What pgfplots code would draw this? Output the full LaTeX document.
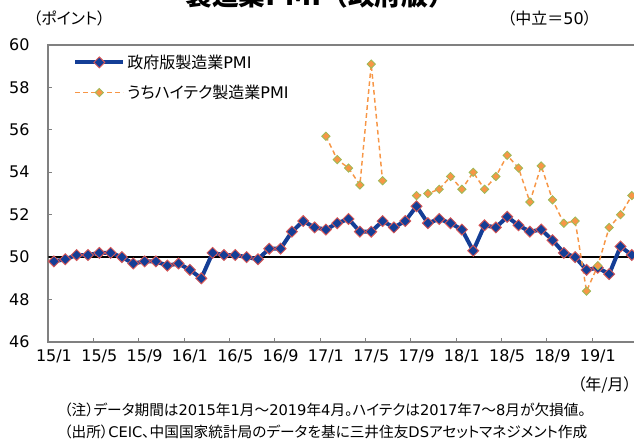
\documentclass[border=0pt]{standalone}
\usepackage{pgfplots}
\pgfplotsset{compat=1.18}
\usepackage{fontspec}
\setmainfont{DejaVu Sans}
\newfontfamily\jp[RawFeature=+palt]{Noto Sans CJK JP}
\newfontfamily\jpf{Noto Sans CJK JP}
\definecolor{pmiblue}{RGB}{20,62,150}
\definecolor{pmired}{RGB}{214,86,86}
\definecolor{pmiorange}{RGB}{247,150,70}
\definecolor{pmigreen}{RGB}{155,187,89}
\definecolor{axgray}{RGB}{128,128,128}
\pgfplotstableread{
x y
0 49.8
1 49.9
2 50.1
3 50.1
4 50.2
5 50.2
6 50.0
7 49.7
8 49.8
9 49.8
10 49.6
11 49.7
12 49.4
13 49.0
14 50.2
15 50.1
16 50.1
17 50.0
18 49.9
19 50.4
20 50.4
21 51.2
22 51.7
23 51.4
24 51.3
25 51.6
26 51.8
27 51.2
28 51.2
29 51.7
30 51.4
31 51.7
32 52.4
33 51.6
34 51.8
35 51.6
36 51.3
37 50.3
38 51.5
39 51.4
40 51.9
41 51.5
42 51.2
43 51.3
44 50.8
45 50.2
46 50.0
47 49.4
48 49.5
49 49.2
50 50.5
51 50.1
}\pmi
\pgfplotstableread{
x y
24 55.7
25 54.6
26 54.2
27 53.4
28 59.1
29 53.6
30 nan
31 nan
32 52.9
33 53.0
34 53.2
35 53.8
36 53.2
37 54.0
38 53.2
39 53.8
40 54.8
41 54.2
42 52.6
43 54.3
44 52.7
45 51.6
46 51.7
47 48.4
48 49.6
49 51.4
50 52.0
51 52.9
}\hitech
\begin{document}
\begin{tikzpicture}
\useasboundingbox (0,0) rectangle (475.5pt,333.75pt);
\clip (0,0) rectangle (475.5pt,333.75pt);
\begin{axis}[
  at={(36.225pt,77.25pt)}, anchor=south west,
  scale only axis, width=441.9pt, height=222.75pt,
  xmin=-0.5, xmax=51.5, ymin=46, ymax=60,
  ytick={46,48,...,60},
  xtick={3.5,7.5,...,47.5}, xticklabels={},
  extra x ticks={0,4,...,48},
  extra x tick labels={15/1,15/5,15/9,16/1,16/5,16/9,17/1,17/5,17/9,18/1,18/5,18/9,19/1},
  extra x tick style={major tick length=0pt, xticklabel style={yshift=-2pt}},
  xtick pos=bottom, ytick pos=left,
  tick align=inside, major tick length=3pt,
  tick style={draw=axgray, line width=0.8pt},
  axis line style={draw=axgray, line width=1.4pt},
  /pgf/number format/assume math mode=true,
  ticklabel style={font=\fontsize{12pt}{14pt}\selectfont},
  yticklabel style={xshift=-10.5pt},
  unbounded coords=jump,
  legend cell align=left,
  legend style={draw=none, fill=none, at={(0.042,0.975)}, anchor=north west,
    font=\fontsize{12pt}{14pt}\selectfont, row sep=8pt, inner sep=0pt,
    nodes={inner sep=1.5pt}},
  legend image code/.code={\draw[mark repeat=2,mark phase=2] plot coordinates {(0pt,0pt) (18pt,0pt) (36pt,0pt)};},
]
\addplot[black, line width=1pt, forget plot] coordinates {(-0.5,50) (51.5,50)};
\addplot[pmiblue, line width=3pt, mark=square*, mark size=2.9pt,
  mark options={rotate=45, solid, fill=pmiblue, draw=pmired, line width=0.7pt}]
  table[x=x,y=y] {\pmi};
\addlegendentry{{\jp 政府版製造業}PMI}
\addplot[pmiorange, line width=1.1pt, dash pattern=on 3.5pt off 2.5pt, mark=square*, mark size=2.2pt,
  mark options={rotate=45, solid, fill=pmiorange, draw=pmigreen, line width=0.6pt}]
  table[x=x,y=y] {\hitech};
\addlegendentry{{\jp うちハイテク製造業}PMI}
\end{axis}
\begin{scope}[x=0.75pt,y=0.75pt]
\node[anchor=base, inner sep=0pt, font=\fontsize{20pt}{24pt}\selectfont\bfseries] at (320,439) {{\jpf 製造業}PMI{\jpf （政府版）}};
\node[anchor=west, inner sep=0pt, font=\fontsize{12pt}{14pt}\selectfont] at (33,427) {\jp （ポイント）};
\node[anchor=east, inner sep=0pt, font=\fontsize{12pt}{14pt}\selectfont] at (592,427) {{\jp （中立＝}50{\jp ）}};
\node[anchor=east, inner sep=0pt, font=\fontsize{12pt}{14pt}\selectfont] at (632,60) {\jp （年/月）};
\node[anchor=west, inner sep=0pt, font=\fontsize{11pt}{13pt}\selectfont] at (64,35) {{\jp （注）データ期間は}2015{\jp 年}1{\jp 月～}2019{\jp 年}4{\jp 月。ハイテクは}2017{\jp 年}7{\jp ～}8{\jp 月が欠損値。}};
\node[anchor=west, inner sep=0pt, font=\fontsize{11pt}{13pt}\selectfont] at (64,13) {{\jp （出所）}CEIC{\jp 、中国国家統計局のデータを基に三井住友}DS{\jp アセットマネジメント作成}};
\end{scope}
\end{tikzpicture}
\end{document}
